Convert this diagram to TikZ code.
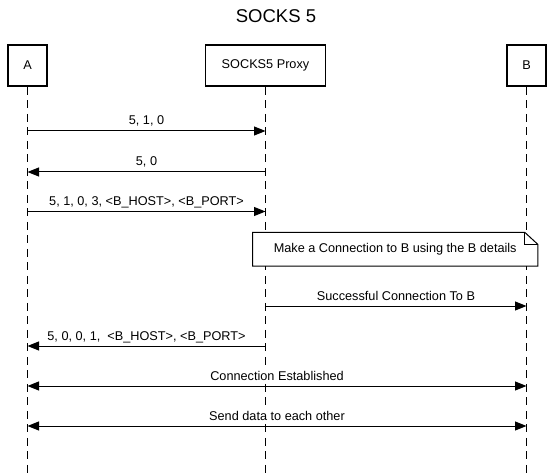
\documentclass[tikz,border=0pt]{standalone}
\usepackage{fontspec}
\setmainfont{Liberation Sans}
\usetikzlibrary{arrows.meta}
\begin{document}
\begin{tikzpicture}[x=1pt,y=-1pt,
  actor/.style={draw,line width=1.8pt,inner sep=0pt,font=\fontsize{12.7}{15}\selectfont},
  lifeline/.style={line width=1.1pt,dash pattern=on 8pt off 5.5pt},
  msg/.style={line width=1pt,-{Triangle[length=11.5pt,width=9pt]}},
  bimsg/.style={line width=1pt,{Triangle[length=11.5pt,width=9pt]}-{Triangle[length=11.5pt,width=9pt]}},
  lbl/.style={midway,anchor=base,yshift=6pt,inner sep=1pt,fill=white,font=\fontsize{12.7}{15}\selectfont}]
\useasboundingbox[fill=white] (0,0) rectangle (552,476);
\node[font=\fontsize{18.5}{22}\selectfont] (title) at (276,16) {SOCKS 5};
\node[actor,minimum width=39pt,minimum height=41pt] (A) at (27.5,65.5) {A};
\node[actor,minimum width=120pt,minimum height=41pt] (P) at (265.5,65.5) {SOCKS5 Proxy};
\node[actor,minimum width=39pt,minimum height=41pt] (B) at (526.5,65.5) {B};
\coordinate (bottom) at (0,476);
\draw[lifeline] (A.south) -- (A |- bottom);
\draw[lifeline] (P.south) -- (P |- bottom);
\draw[lifeline] (B.south) -- (B |- bottom);
\coordinate (r1) at (0,131);
\coordinate (r2) at (0,172);
\coordinate (r3) at (0,211.5);
\coordinate (r4) at (0,306);
\coordinate (r5) at (0,346);
\coordinate (r6) at (0,386);
\coordinate (r7) at (0,426);
\draw[msg] (A |- r1) -- (P |- r1) node[lbl] {5, 1, 0};
\draw[msg] (P |- r2) -- (A |- r2) node[lbl] {5, 0};
\draw[msg] (A |- r3) -- (P |- r3) node[lbl] {5, 1, 0, 3, <B\_HOST>, <B\_PORT>};
\node[fill=white,inner sep=0pt,minimum width=285pt,minimum height=33.3pt,font=\fontsize{12.7}{15}\selectfont] (note) at (395.2,249.3) {Make a Connection to B using the B details};
\draw[line width=1pt] (note.north west) -- ([xshift=-13pt]note.north east) -- ([yshift=-12pt]note.north east) -- (note.south east) -- (note.south west) -- cycle;
\draw[line width=1pt] ([xshift=-13pt]note.north east) |- ([yshift=-12pt]note.north east);
\draw[msg] (P |- r4) -- (B |- r4) node[lbl] {Successful Connection To B};
\draw[msg] (P |- r5) -- (A |- r5) node[lbl] {5, 0, 0, 1, \ <B\_HOST>, <B\_PORT>};
\draw[bimsg] (A |- r6) -- (B |- r6) node[lbl] {Connection Established};
\draw[bimsg] (A |- r7) -- (B |- r7) node[lbl] {Send data to each other};
\end{tikzpicture}
\end{document}
